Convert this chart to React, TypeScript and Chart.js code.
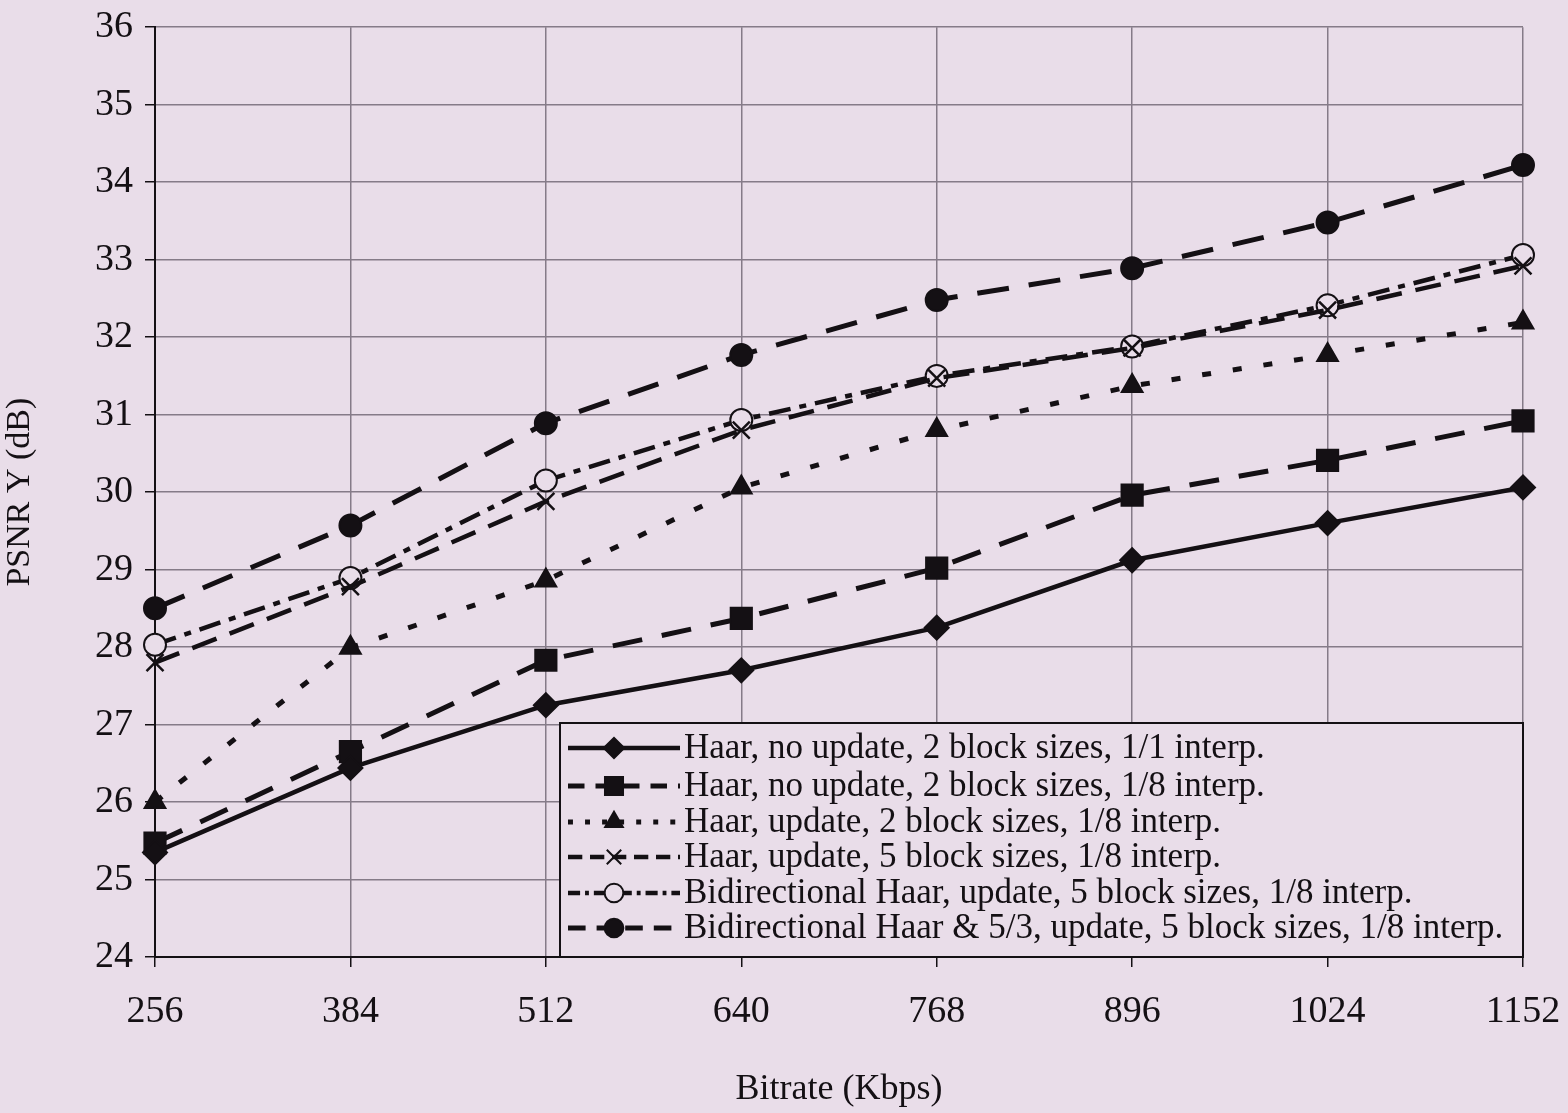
import React, { useEffect, useRef } from "react";
import { Chart, registerables } from "chart.js";
import { drawPoint } from "chart.js/helpers";
Chart.register(...registerables);

const bitrates = [256, 384, 512, 640, 768, 896, 1024, 1152];
const haarNoUpd2b11 = [25.35, 26.44, 27.25, 27.7, 28.25, 29.12, 29.6, 30.06];
const haarNoUpd2b18 = [25.47, 26.65, 27.83, 28.37, 29.02, 29.96, 30.41, 30.92];
const haarUpd2b18 = [26.0, 27.99, 28.86, 30.06, 30.8, 31.37, 31.77, 32.19];
const haarUpd5b18 = [27.8, 28.78, 29.88, 30.8, 31.47, 31.86, 32.35, 32.92];
const biHaarUpd5b18 = [28.03, 28.89, 30.15, 30.93, 31.5, 31.88, 32.41, 33.06];
const biHaar53Upd5b18 = [28.5, 29.57, 30.89, 31.77, 32.48, 32.89, 33.48, 34.22];
const seriesLabels = [
  "Haar, no update, 2 block sizes, 1/1 interp.",
  "Haar, no update, 2 block sizes, 1/8 interp.",
  "Haar, update, 2 block sizes, 1/8 interp.",
  "Haar, update, 5 block sizes, 1/8 interp.",
  "Bidirectional Haar, update, 5 block sizes, 1/8 interp.",
  "Bidirectional Haar & 5/3, update, 5 block sizes, 1/8 interp.",
];
const yAxisTitle = "PSNR Y (dB)";
const xAxisTitle = "Bitrate (Kbps)";

const BG = "#e9dde9";
const INK = "#141014";
const GRID = "#857b88";
const SERIF = "'Liberation Serif', 'DejaVu Serif', serif";

export default function App() {
  const ref = useRef<HTMLCanvasElement | null>(null);
  useEffect(() => {
    document.body.style.margin = "0";
    document.body.style.background = BG;
    const canvas = ref.current!;
    const series = [
      { data: haarNoUpd2b11, style: "rectRot", r: 12, dash: [], w: 4.5, fill: INK },
      { data: haarNoUpd2b18, style: "rect", r: 15, dash: [30, 20], w: 5, fill: INK },
      { data: haarUpd2b18, style: "triangle", r: 12, dash: [9, 22], w: 5, fill: INK },
      { data: haarUpd5b18, style: "crossRot", r: 12, dash: [26, 14], w: 4.5, fill: INK },
      { data: biHaarUpd5b18, style: "circle", r: 11, dash: [22, 9, 7, 9], w: 4.5, fill: BG },
      { data: biHaar53Upd5b18, style: "circle", r: 11, dash: [32, 20], w: 5, fill: INK },
    ];
    const datasets = series.map((s, i) => ({
      label: seriesLabels[i],
      data: s.data.map((v, j) => ({ x: bitrates[j], y: v })),
      borderColor: INK,
      borderWidth: s.w,
      borderDash: s.dash,
      pointStyle: s.style as any,
      pointRadius: s.r,
      pointBackgroundColor: s.fill,
      pointBorderColor: INK,
      pointBorderWidth: s.style === "crossRot" ? 2.5 : 2,
      tension: 0,
      clip: false as any,
    }));

    const legendPlugin = {
      id: "boxLegend",
      afterDatasetsDraw(chart: any) {
        const { ctx, chartArea } = chart;
        const left = 560;
        const top = 723;
        const right = chartArea.right;
        const bottom = chartArea.bottom;
        ctx.save();
        ctx.fillStyle = BG;
        ctx.fillRect(left, top, right - left, bottom - top);
        ctx.strokeStyle = INK;
        ctx.lineWidth = 2;
        ctx.strokeRect(left, top, right - left, bottom - top);
        const rowY = [748, 786, 822, 857, 893, 928];
        series.forEach((s, i) => {
          const y = rowY[i];
          ctx.save();
          ctx.strokeStyle = INK;
          ctx.lineWidth = s.w;
          ctx.setLineDash(s.dash.length ? s.dash.map((d) => d * 0.55) : []);
          ctx.beginPath();
          ctx.moveTo(568, y);
          ctx.lineTo(680, y);
          ctx.stroke();
          ctx.restore();
          ctx.save();
          ctx.fillStyle = s.fill;
          ctx.strokeStyle = INK;
          ctx.lineWidth = 2;
          drawPoint(ctx, { pointStyle: s.style, rotation: 0, radius: s.r * 0.85, borderWidth: 2 } as any, 614, y);
          ctx.restore();
          ctx.fillStyle = INK;
          ctx.font = `35px ${SERIF}`;
          ctx.textBaseline = "middle";
          ctx.textAlign = "left";
          ctx.fillText(seriesLabels[i], 684, y + 1);
        });
        ctx.restore();
      },
    };

    const chart = new Chart(canvas, {
      type: "line",
      data: { datasets },
      options: {
        animation: false,
        responsive: false,
        layout: { padding: { top: 20, right: 0, left: 0, bottom: 0 } },
        plugins: { legend: { display: false }, tooltip: { enabled: false } },
        scales: {
          x: {
            type: "linear",
            min: 256,
            max: 1152,
            ticks: {
              stepSize: 128,
              color: INK,
              font: { family: SERIF, size: 38 },
              padding: 22,
              maxRotation: 0,
              autoSkip: false,
              callback: (v: any) => String(v),
            },
            grid: { color: GRID, lineWidth: 1.5, tickLength: 10, tickColor: INK },
            border: { color: INK, width: 2 },
            title: { display: true, text: xAxisTitle, color: INK, font: { family: SERIF, size: 36 }, padding: { top: 20, bottom: 2 } },
            afterFit(scale: any) {
              scale.height = 1113 - 957;
              scale.paddingRight = 45;
            },
          },
          y: {
            type: "linear",
            min: 24,
            max: 36,
            ticks: { stepSize: 1, color: INK, font: { family: SERIF, size: 38, lineHeight: 0.8 }, padding: 12 },
            grid: { color: GRID, lineWidth: 1.5, tickLength: 10, tickColor: INK },
            border: { color: INK, width: 2 },
            title: { display: true, text: yAxisTitle, color: INK, font: { family: SERIF, size: 34 }, padding: { top: 0, bottom: 2 } },
            afterFit(scale: any) { scale.width = 155; },
          },
        },
      },
      plugins: [legendPlugin],
    });
    return () => chart.destroy();
  }, []);
  return (
    <div style={{ width: 1568, height: 1113, background: BG }}>
      <canvas ref={ref} width={1568} height={1113} style={{ display: "block", background: BG }} />
    </div>
  );
}
